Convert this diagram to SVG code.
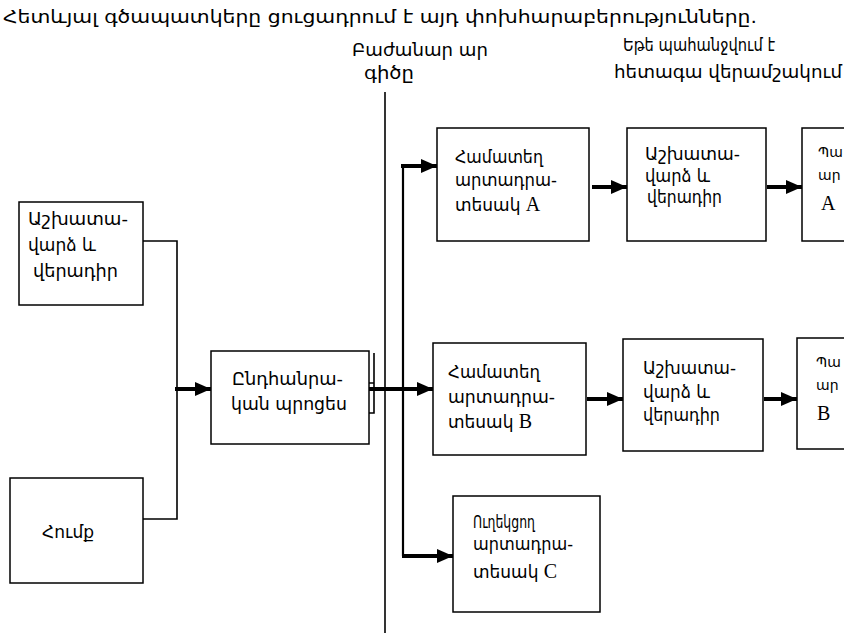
<svg xmlns="http://www.w3.org/2000/svg" width="844" height="633" viewBox="0 0 844 633">
  <style>
    .box { fill: #ffffff; stroke: #000000; stroke-width: 1.5; }
    .wire { fill: none; stroke: #000000; stroke-width: 1.6; }
    .trunk { fill: none; stroke: #000000; stroke-width: 2.2; }
    .flow { fill: none; stroke: #000000; stroke-width: 4; marker-end: url(#head); }
    .lbl { font-family: "DejaVu Sans", "Noto Sans", sans-serif; font-size: 17px; fill: #000000; }
    .edge { font-family: "DejaVu Sans", "Noto Sans", sans-serif; font-size: 14px; fill: #000000; }
    .ltr { font-family: "Liberation Serif", serif; font-size: 20px; fill: #000000; }
    .title { font-family: "DejaVu Sans", "Noto Sans", sans-serif; font-size: 17px; fill: #000000; }
  </style>
  <defs>
    <marker id="head" markerUnits="userSpaceOnUse" markerWidth="16" markerHeight="16" refX="16" refY="8" orient="auto">
      <path d="M0,1 L16,8 L0,15 Z" fill="#000000"/>
    </marker>
  </defs>
  <rect width="844" height="633" fill="#ffffff"/>

  <text class="title" x="3" y="23" textLength="754" lengthAdjust="spacingAndGlyphs">Հետևյալ գծապատկերը ցուցադրում է այդ փոխհարաբերությունները.</text>

  <!-- dividing line with caption -->
  <g id="divider">
    <text class="lbl" x="352" y="56" textLength="136" lengthAdjust="spacingAndGlyphs">Բաժանար ար</text>
    <text class="lbl" x="364" y="79" textLength="50" lengthAdjust="spacingAndGlyphs">գիծը</text>
    <line x1="385" y1="92" x2="385" y2="633" stroke="#000000" stroke-width="1.6"/>
  </g>

  <g id="note">
    <text class="lbl" x="623" y="51" textLength="152" lengthAdjust="spacingAndGlyphs">Եթե պահանջվում է</text>
    <text class="lbl" x="614" y="78" textLength="228" lengthAdjust="spacingAndGlyphs">հետագա վերամշակում</text>
  </g>

  <!-- connectors -->
  <g id="connectors">
    <path class="wire" d="M143,241 H177 V519 H143"/>
    <path class="flow" d="M175,389 H211"/>
    <path class="wire" d="M369,383 H374 M374,353 V413 H369"/>
    <path class="flow" d="M348,389 H433"/>
    <path class="trunk" d="M403,166 V556"/>
    <path class="flow" d="M401,166 H437"/>
    <path class="flow" d="M402,556 H453"/>
    <path class="flow" d="M592,187 H627"/>
    <path class="flow" d="M767,187 H802"/>
    <path class="flow" d="M587,399 H623"/>
    <path class="flow" d="M764,399 H797"/>
  </g>

  <g id="labor-left">
    <rect class="box" x="19" y="202" width="124" height="103"/>
    <text class="lbl" x="28" y="225" textLength="100" lengthAdjust="spacingAndGlyphs">Աշխատա-</text>
    <text class="lbl" x="28" y="251" textLength="68" lengthAdjust="spacingAndGlyphs">վարձ և</text>
    <text class="lbl" x="33" y="277" textLength="85" lengthAdjust="spacingAndGlyphs">վերադիր</text>
  </g>

  <g id="material">
    <rect class="box" x="10" y="478" width="133" height="105"/>
    <text class="lbl" x="42" y="538" textLength="52" lengthAdjust="spacingAndGlyphs">Հումք</text>
  </g>

  <g id="joint-process">
    <rect class="box" x="211" y="351" width="158" height="93"/>
    <text class="lbl" x="232" y="385" textLength="111" lengthAdjust="spacingAndGlyphs">Ընդհանրա-</text>
    <text class="lbl" x="231" y="410" textLength="116" lengthAdjust="spacingAndGlyphs">կան պրոցես</text>
  </g>

  <g id="joint-a">
    <rect class="box" x="437" y="128" width="152" height="113"/>
    <text class="lbl" x="455" y="163" textLength="88" lengthAdjust="spacingAndGlyphs">Համատեղ</text>
    <text class="lbl" x="455" y="186" textLength="102" lengthAdjust="spacingAndGlyphs">արտադրա-</text>
    <text class="lbl" x="455" y="211">տեսակ <tspan class="ltr">A</tspan></text>
  </g>

  <g id="labor-a">
    <rect class="box" x="627" y="128" width="139" height="113"/>
    <text class="lbl" x="645" y="160" textLength="95" lengthAdjust="spacingAndGlyphs">Աշխատա-</text>
    <text class="lbl" x="645" y="182" textLength="65" lengthAdjust="spacingAndGlyphs">վարձ և</text>
    <text class="lbl" x="647" y="203" textLength="75" lengthAdjust="spacingAndGlyphs">վերադիր</text>
  </g>

  <g id="final-a">
    <rect class="box" x="802" y="128" width="50" height="113"/>
    <text class="edge" x="818" y="157">Պա</text>
    <text class="edge" x="818" y="180">ար</text>
    <text class="ltr" x="821" y="210">A</text>
  </g>

  <g id="joint-b">
    <rect class="box" x="433" y="343" width="153" height="112"/>
    <text class="lbl" x="448" y="378" textLength="92" lengthAdjust="spacingAndGlyphs">Համատեղ</text>
    <text class="lbl" x="448" y="403" textLength="107" lengthAdjust="spacingAndGlyphs">արտադրա-</text>
    <text class="lbl" x="448" y="428">տեսակ <tspan class="ltr">B</tspan></text>
  </g>

  <g id="labor-b">
    <rect class="box" x="623" y="339" width="140" height="112"/>
    <text class="lbl" x="643" y="374" textLength="93" lengthAdjust="spacingAndGlyphs">Աշխատա-</text>
    <text class="lbl" x="643" y="398" textLength="67" lengthAdjust="spacingAndGlyphs">վարձ և</text>
    <text class="lbl" x="643" y="421" textLength="77" lengthAdjust="spacingAndGlyphs">վերադիր</text>
  </g>

  <g id="final-b">
    <rect class="box" x="797" y="338" width="55" height="111"/>
    <text class="edge" x="816" y="367">Պա</text>
    <text class="edge" x="816" y="390">ար</text>
    <text class="ltr" x="817" y="420">B</text>
  </g>

  <g id="by-product-c">
    <rect class="box" x="453" y="496" width="147" height="116"/>
    <text class="lbl" x="473" y="528" textLength="62" lengthAdjust="spacingAndGlyphs">Ուղեկցող</text>
    <text class="lbl" x="473" y="550" textLength="100" lengthAdjust="spacingAndGlyphs">արտադրա-</text>
    <text class="lbl" x="473" y="578">տեսակ <tspan class="ltr">C</tspan></text>
  </g>
</svg>
